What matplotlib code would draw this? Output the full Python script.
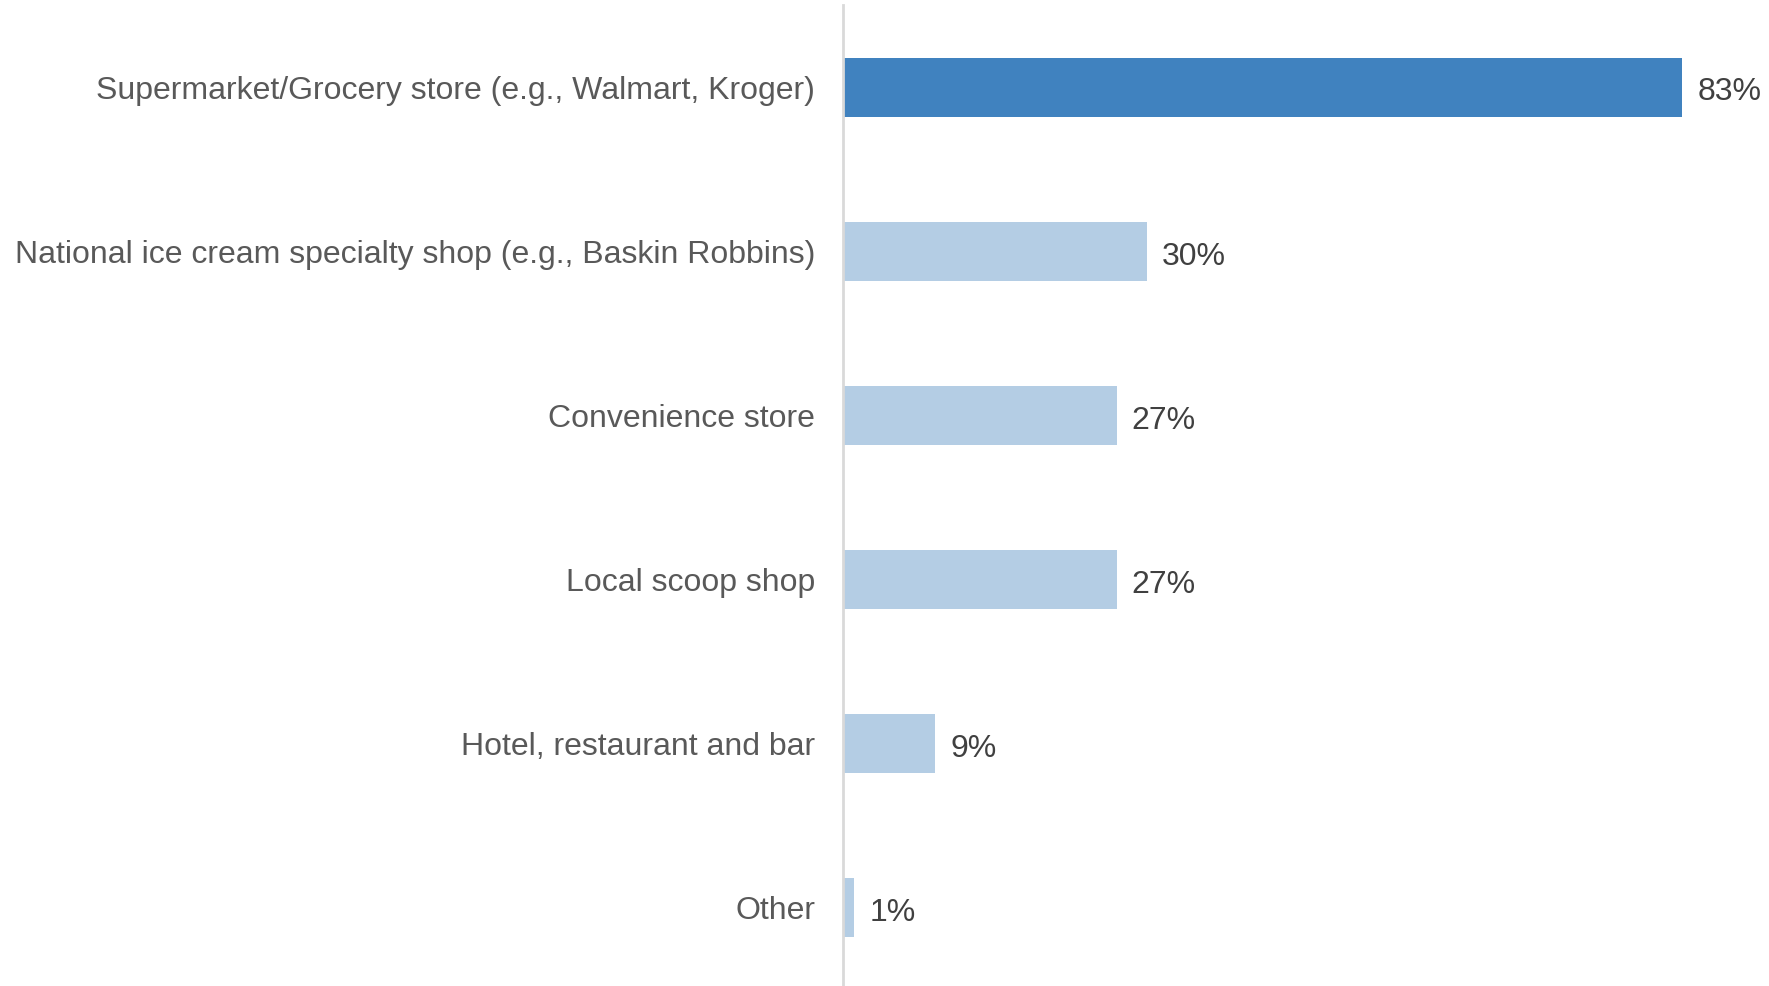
import matplotlib
matplotlib.use("Agg")
import matplotlib.pyplot as plt

categories = [
    "Supermarket/Grocery store (e.g., Walmart, Kroger)",
    "National ice cream specialty shop (e.g., Baskin Robbins)",
    "Convenience store",
    "Local scoop shop",
    "Hotel, restaurant and bar",
    "Other",
]
values = [83, 30, 27, 27, 9, 1]
highlight = [True, False, False, False, False, False]

DARK = "#4082BF"
LIGHT = "#B4CDE4"

plt.rcParams["font.family"] = ["Liberation Sans", "DejaVu Sans"]

W, H = 1769, 986
fig = plt.figure(figsize=(W / 100, H / 100), dpi=100)
# axes spans from just below the canvas to a few px under the top edge
ax = fig.add_axes([843 / W, -3.8 / H, (W - 843) / W, 984.5 / H])

ypos = list(range(len(categories)))
colors = [DARK if h else LIGHT for h in highlight]
ax.barh(ypos, values, height=0.36, color=colors, left=0.1)

ax.set_xlim(0, (W - 843) / 10.1)
ax.set_ylim(len(categories) - 0.5, -0.5)

for y, v in zip(ypos, values):
    ax.text(v + 1.6, y + 0.01, f"{v}%", va="center_baseline", ha="left",
            fontsize=23, color="#404040")

ax.set_yticks(ypos)
ax.set_yticklabels(categories, fontsize=23, color="#595959")
ax.tick_params(axis="y", length=0, pad=20)
ax.set_xticks([])

for s in ["top", "right", "bottom"]:
    ax.spines[s].set_visible(False)
ax.spines["left"].set_color("#D9D9D9")
ax.spines["left"].set_linewidth(2)

fig.savefig("out.png", dpi=100, facecolor="white")
